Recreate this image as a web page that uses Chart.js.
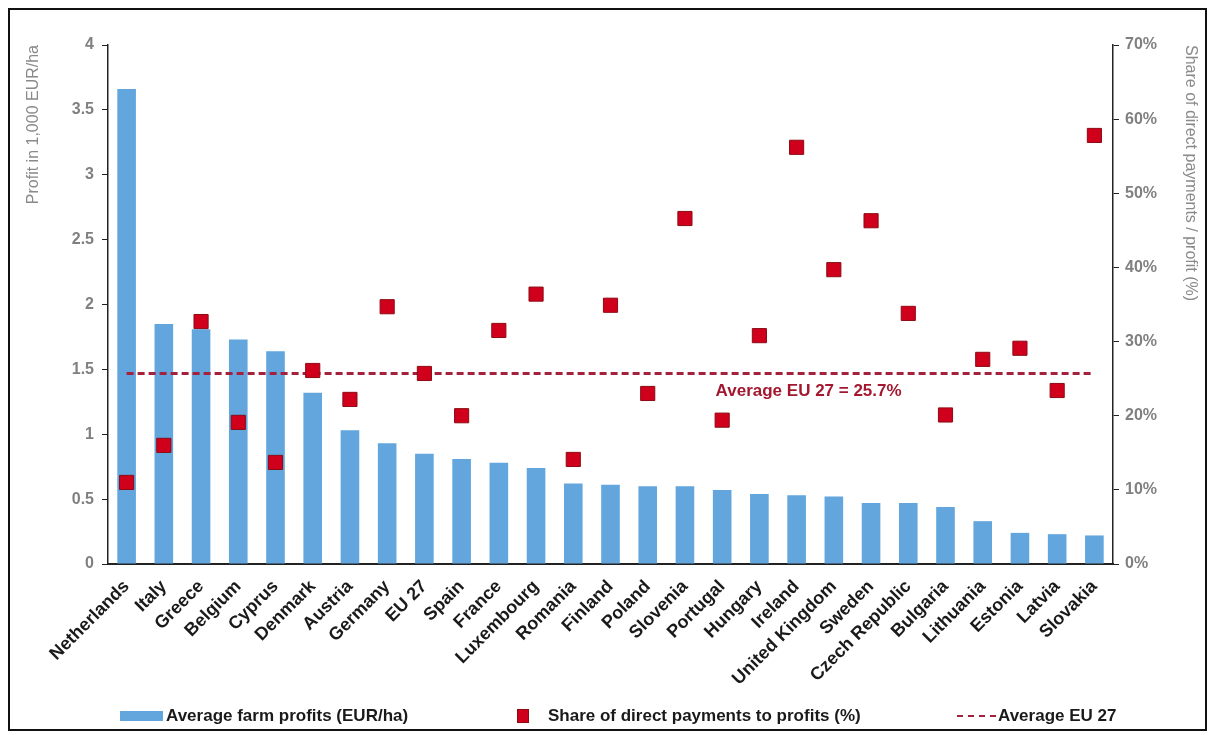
<!DOCTYPE html>
<html>
<head>
<meta charset="utf-8">
<title>Farm profits and direct payments</title>
<script src="https://cdn.jsdelivr.net/npm/chart.js@4.4.1/dist/chart.umd.min.js"></script>
<style>
  html, body { margin: 0; padding: 0; background: #fff; }
  #wrap { position: relative; width: 1213px; height: 735px; overflow: hidden; }
  #frame { position: absolute; left: 8px; top: 8px; width: 1199px; height: 723px; border: 2px solid #111; box-sizing: border-box; }
  canvas { position: absolute; left: 0; top: 0; }
  .leg { position: absolute; top: 706px; font: bold 17px 'Liberation Sans', Arial, sans-serif; color: #1a1a1a; line-height: 20px; white-space: nowrap; }
  .sw { position: absolute; }
</style>
</head>
<body>
<div id="wrap">
  <div id="frame"></div>
  <canvas id="chart" width="1213" height="735"></canvas>
  <div class="sw" style="left:120px; top:711px; width:43px; height:10px; background:#62a6dd;"></div>
  <div class="leg" style="left:166px;">Average farm profits (EUR/ha)</div>
  <div class="sw" style="left:517px; top:709px; width:12px; height:14px; background:#d0001c; border:1px solid #8c0a14; box-sizing:border-box;"></div>
  <div class="leg" style="left:548px;">Share of direct payments to profits (%)</div>
  <div class="sw" style="left:957px; top:715px; width:39px; height:0; border-top:2px dashed #a3213d;"></div>
  <div class="leg" style="left:998px;">Average EU 27</div>
</div>
<script>
// --- Data ---
const countries = ['Netherlands', 'Italy', 'Greece', 'Belgium', 'Cyprus', 'Denmark', 'Austria', 'Germany', 'EU 27',
  'Spain', 'France', 'Luxembourg', 'Romania', 'Finland', 'Poland', 'Slovenia', 'Portugal', 'Hungary', 'Ireland',
  'United Kingdom', 'Sweden', 'Czech Republic', 'Bulgaria', 'Lithuania', 'Estonia', 'Latvia', 'Slovakia'];

// average farm profits, 1,000 EUR/ha
const profits = [3.66, 1.85, 1.81, 1.73, 1.64, 1.32, 1.03, 0.93, 0.85,
  0.81, 0.78, 0.74, 0.62, 0.61, 0.60, 0.60, 0.57, 0.54, 0.53,
  0.52, 0.47, 0.47, 0.44, 0.33, 0.24, 0.23, 0.22];

// share of direct payments to profits, %
const shares = [11.0, 16.0, 32.7, 19.1, 13.7, 26.1, 22.2, 34.7, 25.7,
  20.0, 31.5, 36.4, 14.1, 34.9, 23.0, 46.6, 19.4, 30.8, 56.2,
  39.7, 46.3, 33.8, 20.1, 27.6, 29.1, 23.4, 57.8];

const avgEU27 = 25.7;
const avgLinePoints = [{ x: 'Netherlands', y: avgEU27 }, { x: 'Slovakia', y: avgEU27 }];
const avgLabel = 'Average EU 27 = 25.7%';

const leftTicks = ['0', '0.5', '1', '1.5', '2', '2.5', '3', '3.5', '4'];
const rightTicks = ['0%', '10%', '20%', '30%', '40%', '50%', '60%', '70%'];

const FONT = "'Liberation Sans', Arial, sans-serif";

// text under the dashed average line
const avgLabelPlugin = {
  id: 'avgLabel',
  afterDatasetsDraw(chart) {
    const { ctx, scales } = chart;
    const x = scales.x.getPixelForValue(countries.indexOf('Ireland')) + 12;
    const y = scales.y2.getPixelForValue(avgEU27) + 18;
    ctx.save();
    ctx.font = 'bold 17px ' + FONT;
    ctx.fillStyle = '#a3172f';
    ctx.textAlign = 'center';
    ctx.textBaseline = 'middle';
    ctx.fillText(avgLabel, x, y);
    ctx.restore();
  }
};

const axisColor = '#222';
const tickGray = '#808080';

new Chart(document.getElementById('chart'), {
  type: 'bar',
  data: {
    labels: countries,
    datasets: [
      {
        type: 'line',
        label: 'Share of direct payments to profits (%)',
        data: shares,
        yAxisID: 'y2',
        showLine: false,
        pointStyle: 'rect',
        pointRadius: 10,
        pointBackgroundColor: '#d0001c',
        pointBorderColor: '#8c0a14',
        pointBorderWidth: 1,
        order: 0
      },
      {
        type: 'line',
        label: 'Average EU 27',
        data: avgLinePoints,
        yAxisID: 'y2',
        borderColor: '#a3213d',
        borderWidth: 3,
        borderDash: [7, 4],
        pointRadius: 0,
        fill: false,
        order: 1
      },
      {
        type: 'bar',
        label: 'Average farm profits (EUR/ha)',
        data: profits,
        yAxisID: 'y',
        backgroundColor: '#62a6dd',
        barPercentage: 0.5,
        categoryPercentage: 1.0,
        order: 2
      }
    ]
  },
  options: {
    responsive: false,
    animation: false,
    devicePixelRatio: 1,
    layout: { padding: { top: 45, left: 0, right: 0, bottom: 0 } },
    plugins: {
      legend: { display: false },
      tooltip: { enabled: false }
    },
    scales: {
      x: {
        grid: { display: false },
        border: { display: true, color: axisColor, width: 2 },
        ticks: {
          autoSkip: false,
          minRotation: 45,
          maxRotation: 45,
          padding: 4,
          color: '#1a1a1a',
          font: { family: FONT, size: 18, weight: 'bold' }
        },
        afterFit: s => { s.height = 171; }
      },
      y: {
        position: 'left',
        min: 0,
        max: 4,
        grid: { drawOnChartArea: false, color: axisColor, tickLength: 6 },
        border: { display: true, color: axisColor, width: 1.5 },
        ticks: {
          stepSize: 0.5,
          padding: 8,
          color: tickGray,
          font: { family: FONT, size: 16, weight: 'bold' },
          callback: (v, i) => leftTicks[i]
        },
        title: {
          display: true,
          text: 'Profit in 1,000 EUR/ha',
          align: 'end',
          color: '#8a8a8a',
          font: { family: FONT, size: 16 },
          padding: { top: 24, bottom: 0 }
        },
        afterFit: s => { s.width = 108; }
      },
      y2: {
        position: 'right',
        min: 0,
        max: 70,
        grid: { drawOnChartArea: false, color: axisColor, tickLength: 6 },
        border: { display: true, color: axisColor, width: 1.5 },
        ticks: {
          stepSize: 10,
          padding: 6,
          color: tickGray,
          font: { family: FONT, size: 16, weight: 'bold' },
          callback: (v, i) => rightTicks[i]
        },
        title: {
          display: true,
          text: 'Share of direct payments / profit (%)',
          align: 'end',
          color: '#8a8a8a',
          font: { family: FONT, size: 16 },
          padding: { top: 13, bottom: 0 }
        },
        afterFit: s => { s.width = 100; }
      }
    }
  },
  plugins: [avgLabelPlugin]
});
</script>
</body>
</html>
